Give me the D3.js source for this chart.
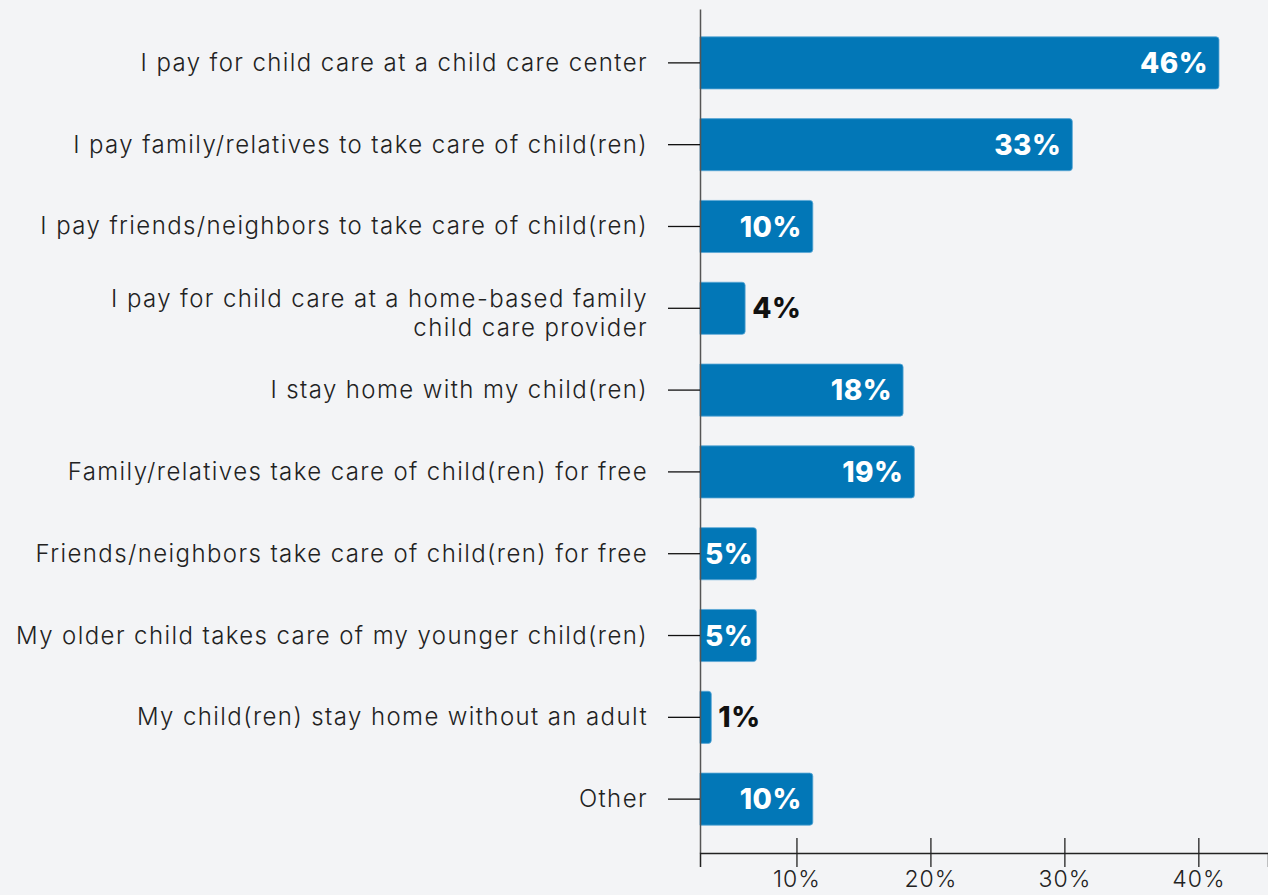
<!DOCTYPE html>
<html>
<head>
<meta charset="utf-8">
<script src="https://cdn.jsdelivr.net/npm/d3@7"></script>
<style>
  html, body { margin: 0; padding: 0; background: #f3f4f6; }
  svg { display: block; }
  .cat text { font-family: Inter, "Open Sans", sans-serif; font-weight: 300; font-size: 24px; letter-spacing: 1.4px; fill: #222; }
  .xax text { font-family: Inter, "Open Sans", sans-serif; font-weight: 300; font-size: 23px; letter-spacing: 1px; fill: #222; }
  .val { font-family: Inter, "Open Sans", sans-serif; font-weight: 800; font-size: 28px; letter-spacing: 0.5px; }
</style>
</head>
<body>
<svg id="chart" width="1268" height="895"></svg>
<script>
// Ways parents arrange child care (share of respondents, %)
const categories = [
  "I pay for child care at a child care center",
  "I pay family/relatives to take care of child(ren)",
  "I pay friends/neighbors to take care of child(ren)",
  "I pay for child care at a home-based family\nchild care provider",
  "I stay home with my child(ren)",
  "Family/relatives take care of child(ren) for free",
  "Friends/neighbors take care of child(ren) for free",
  "My older child takes care of my younger child(ren)",
  "My child(ren) stay home without an adult",
  "Other"
];
const values = [46, 33, 10, 4, 18, 19, 5, 5, 1, 10];
const tickValues = [10, 20, 30, 40];

const W = 1268, H = 895;
const x0 = 700, axisY = 853;
const barColor = "#0277b7";

const svg = d3.select("#chart");

// bar length scale
const x = d3.scaleLinear().domain([0, 46]).range([x0, 1219]);
// bottom axis scale
const xAxisScale = d3.scaleLinear().domain([2.8, 45.2]).range([x0, W]);

const y = d3.scaleBand()
  .domain(categories)
  .range([9, axisY])
  .paddingInner(0.363)
  .paddingOuter(0.34);

// bars: square at the axis, rounded on the right end
const r = 3;
function barPath(d, i) {
  const xs = x(0), xe = x(d), yt = y(categories[i]), h = y.bandwidth();
  const rr = Math.min(r, (xe - xs) / 2);
  return `M${xs},${yt}H${xe - rr}Q${xe},${yt} ${xe},${yt + rr}V${yt + h - rr}Q${xe},${yt + h} ${xe - rr},${yt + h}H${xs}Z`;
}
svg.append("g").selectAll("path")
  .data(values)
  .join("path")
  .attr("d", barPath)
  .attr("fill", barColor)
  .attr("stroke", "#5aa7d6")
  .attr("stroke-width", 0.8);

// value labels: inside in white when the bar is wide enough, else outside in black
const inside = d => d >= 5;
svg.append("g").selectAll("text")
  .data(values)
  .join("text")
  .attr("class", "val")
  .attr("y", (d, i) => y(categories[i]) + y.bandwidth() / 2)
  .attr("dy", "0.36em")
  .attr("text-anchor", d => inside(d) ? "end" : "start")
  .attr("fill", d => inside(d) ? "#ffffff" : "#111")
  .text(d => d + "%")
  .attr("x", function(d) {
    if (!inside(d)) return x(d) + 7;
    const w = this.getComputedTextLength();
    return Math.max(x(d) - 11, x0 + 5 + w);
  });

// left axis with category labels
const yAxis = d3.axisLeft(y).tickSize(32).tickSizeOuter(0).tickPadding(18);
const gy = svg.append("g").attr("class", "cat").attr("transform", `translate(${x0},0)`).call(yAxis);
gy.select(".domain").attr("stroke", "#555").attr("stroke-width", 1.5);
gy.selectAll(".tick line").attr("stroke", "#111").attr("stroke-width", 1.3);
gy.selectAll(".tick text").each(function(d) {
  const lines = d.split("\n");
  const t = d3.select(this).text(null).attr("dy", null);
  const lh = 29;
  lines.forEach((ln, k) => {
    t.append("tspan")
      .attr("x", -52)
      .attr("dy", k === 0 ? ((-(lines.length - 1) * lh / 2) + 8 + (lines.length > 1 ? 5 : 0)) : lh)
      .text(ln);
  });
});

// bottom axis
const xAxis = d3.axisBottom(xAxisScale)
  .tickValues(tickValues)
  .tickFormat(d => d + "%")
  .tickSizeOuter(0)
  .tickSize(14);
const gx = svg.append("g").attr("class", "xax").attr("transform", `translate(0,${axisY})`).call(xAxis);
gx.select(".domain").attr("stroke", "#222").attr("stroke-width", 1.5);
gx.selectAll(".tick line").attr("y1", -15).attr("y2", 14).attr("stroke", "#222").attr("stroke-width", 1.3);
gx.selectAll(".tick text").attr("y", 34).attr("dy", null);
</script>
</body>
</html>
